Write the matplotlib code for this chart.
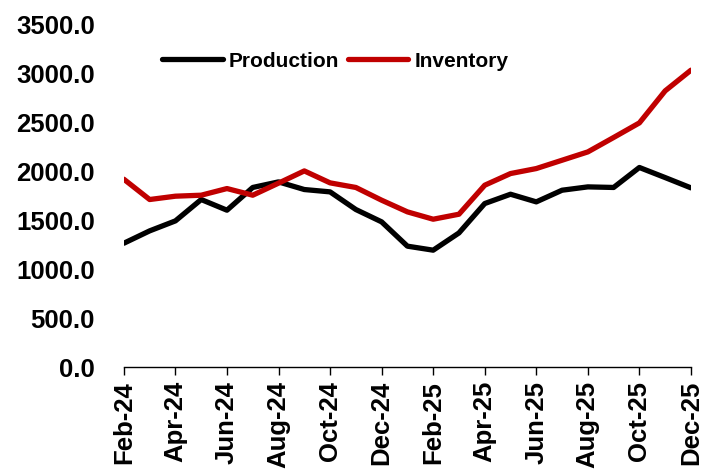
import matplotlib
matplotlib.use("Agg")
import matplotlib.pyplot as plt
from matplotlib.ticker import FuncFormatter

months = ["Feb-24", "Mar-24", "Apr-24", "May-24", "Jun-24", "Jul-24", "Aug-24",
          "Sep-24", "Oct-24", "Nov-24", "Dec-24", "Jan-25", "Feb-25", "Mar-25",
          "Apr-25", "May-25", "Jun-25", "Jul-25", "Aug-25", "Sep-25", "Oct-25",
          "Nov-25", "Dec-25"]
production = [1265, 1391, 1493, 1711, 1602, 1834, 1891, 1813, 1789, 1609, 1483,
              1235, 1194, 1370, 1670, 1765, 1687, 1806, 1840, 1834, 2038, 1935, 1830]
inventory = [1918, 1711, 1745, 1755, 1823, 1755, 1878, 2003, 1881, 1834, 1704,
             1585, 1510, 1561, 1857, 1976, 2027, 2112, 2197, 2344, 2493, 2820, 3031]
yticks = [0, 500, 1000, 1500, 2000, 2500, 3000, 3500]

plt.rcParams['font.family'] = ['Liberation Sans', 'DejaVu Sans']
plt.rcParams['font.weight'] = 'bold'

fig = plt.figure(figsize=(7.16, 4.75), dpi=100)
ax = fig.add_axes([0.173, 0.227, 0.792, 0.722])

x = list(range(len(months)))
ax.plot(x, production, color='black', lw=3.8, label='Production', solid_capstyle='round')
ax.plot(x, inventory, color='#C00000', lw=3.8, label='Inventory', solid_capstyle='round')

ax.set_xlim(0, len(months) - 1)
ax.set_ylim(0, 3500)
ax.set_yticks(yticks)
ax.yaxis.set_major_formatter(FuncFormatter(lambda v, p: f"{v:.1f}"))
ax.set_xticks(x[::2])
ax.set_xticklabels(months[::2], rotation=90, fontsize=18.5, fontweight='bold')
for lab in ax.get_yticklabels():
    lab.set_fontsize(18.5)
    lab.set_fontweight('bold')

for s in ['top', 'right', 'left']:
    ax.spines[s].set_visible(False)
ax.spines['bottom'].set_linewidth(1.0)
ax.tick_params(axis='y', length=0, pad=21)
ax.tick_params(axis='x', direction='out', length=6, width=1.0, pad=4)

leg = ax.legend(loc='upper center', bbox_to_anchor=(0.373, 0.975), ncol=2, frameon=False,
                prop={'size': 15, 'weight': 'bold'},
                handlelength=2.9, columnspacing=0.4, handletextpad=0.3)

fig.savefig("out.png", dpi=100)
